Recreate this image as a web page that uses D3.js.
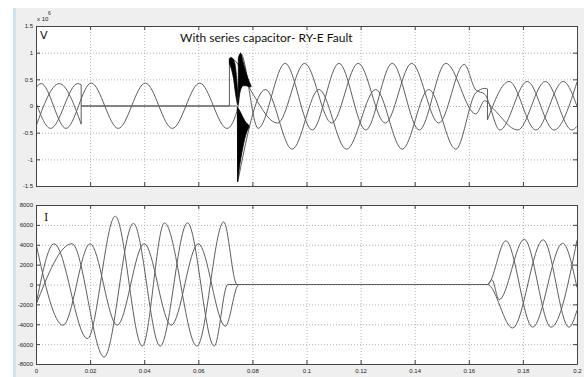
<!DOCTYPE html>
<html>
<head>
<meta charset="utf-8">
<script src="https://cdn.jsdelivr.net/npm/d3@7"></script>
<style>
  body { margin: 0; background: #fff; }
  svg { display: block; font-family: "Liberation Sans", Arial, sans-serif; }
  .tick text { font-size: 6px; fill: #222; }
  .grid line { stroke: #b4b4b4; stroke-dasharray: 1,2; }
  .grid path, .noline path { display: none; }
  .frame path, .frame line { stroke: #444; }
  .wave { fill: none; stroke: #5e5e5e; stroke-width: 1; }
</style>
</head>
<body>
<svg id="chart" width="584" height="377"></svg>
<script>
// x axis (time, s)
const xTicks = [0, 0.02, 0.04, 0.06, 0.08, 0.1, 0.12, 0.14, 0.16, 0.18, 0.2];
const xTickLabels = ["0", "0.02", "0.04", "0.06", "0.08", "0.1", "0.12", "0.14", "0.16", "0.18", "0.2"];
// voltage panel (x10^6)
const vTicks = [-1.5, -1, -0.5, 0, 0.5, 1, 1.5];
const vTickLabels = ["-1.5", "-1", "-0.5", "0", "0.5", "1", "1.5"];
// current panel
const iTicks = [-8000, -6000, -4000, -2000, 0, 2000, 4000, 6000, 8000];
const iTickLabels = ["-8000", "-6000", "-4000", "-2000", "0", "2000", "4000", "6000", "8000"];

const title = "With series capacitor- RY-E Fault";

// voltage phases: segments of [t, v(x10^6)], segments joined by straight jumps
const vPhaseA = [
  [[0, 0.35], [0.0019, 0.42], [0.0111, -0.42], [0.0204, 0.43], [0.0304, -0.42], [0.0404, 0.43],
   [0.0504, -0.42], [0.0605, 0.43], [0.0706, -0.42], [0.0748, 0.0], [0.0756, 0.99], [0.0821, -0.42],
   [0.0921, 0.8], [0.1021, -0.45], [0.1120, 0.8], [0.1219, -0.45], [0.1317, 0.8], [0.1417, -0.45],
   [0.1515, 0.8], [0.1626, -0.15], [0.1659, 0.1], [0.1690, -0.05], [0.1781, -0.45], [0.1883, 0.46],
   [0.1981, -0.45], [0.2, -0.38]]
];
const vPhaseB = [
  [[0, -0.38], [0.0086, 0.42], [0.0167, -0.34]],
  [[0.0167, 0], [0.0744, 0]],
  [[0.0746, -1.42], [0.0848, 0.31], [0.0947, -0.81], [0.1046, 0.31], [0.1148, -0.81], [0.1256, 0.31],
   [0.1354, -0.81], [0.1452, 0.31], [0.1552, -0.81], [0.1626, 0.25], [0.1659, 0.33], [0.1669, 0.32]],
  [[0.1669, -0.26], [0.1749, 0.46], [0.1848, -0.45], [0.1949, 0.46], [0.2, 0.0]]
];
const vPhaseC = [
  [[0, 0.06], [0.0054, -0.42], [0.0154, 0.42], [0.0167, 0.40]],
  [[0.0167, 0], [0.0715, 0]],
  [[0.0715, 0.89], [0.0731, 0.87], [0.0793, 0.3], [0.0893, -0.32], [0.0993, 0.8], [0.1093, -0.32],
   [0.1191, 0.8], [0.1291, -0.32], [0.1389, 0.8], [0.1489, -0.32], [0.1583, 0.78], [0.1626, 0.3],
   [0.1659, 0.22], [0.1715, -0.45], [0.1816, 0.46], [0.1915, -0.45], [0.2, 0.45]]
];
// high-frequency transient bursts: [t, upper, lower]
const vBurst1 = [[0.0715, 0.89, 0.80], [0.0722, 0.91, 0.70], [0.0730, 0.87, 0.52], [0.0738, 0.70, 0.22], [0.0745, 0.30, 0.02]];
const vBurst2 = [[0.0748, 0.90, 0.05], [0.0756, 0.99, 0.30], [0.0766, 0.82, 0.38], [0.0777, 0.62, 0.38], [0.0788, 0.46, 0.36], [0.0795, 0.38, 0.36]];
const vBurst3 = [[0.0745, -0.03, -1.42], [0.0752, -0.08, -1.15], [0.0762, -0.18, -0.85], [0.0775, -0.3, -0.55], [0.0787, -0.36, -0.40]];

// current phases: [t, A]
const iPhaseA = [
  [[0, 4100], [0.01, -4100], [0.02, 4100], [0.03, -4100], [0.04, 4100], [0.05, -4100], [0.06, 4100],
   [0.07, -4200], [0.075, 0], [0.1669, 0], [0.1737, 4400], [0.1836, -4300], [0.1947, 4150], [0.2, -300]]
];
const iPhaseB = [
  [[0, -2050], [0.0067, 4100], [0.019, -5450], [0.0293, 6870], [0.0393, -6200], [0.0475, 6200],
   [0.0595, -6200], [0.0694, 6300], [0.0743, 0], [0.1669, 0], [0.1685, 500], [0.1712, -1530],
   [0.1805, 4550], [0.1904, -4300], [0.2, 4450]]
];
const iPhaseC = [
  [[0, -2050], [0.0133, 4100], [0.0252, -7300], [0.036, 6150], [0.0459, -6200], [0.056, 6200],
   [0.0659, -6200], [0.0709, 0], [0.1669, 0], [0.1762, -4380], [0.1875, 4500], [0.197, -4300], [0.2, -2600]]
];

const W = 584, H = 377;
const svg = d3.select("#chart");

// figure window background
svg.append("rect").attr("x", 13).attr("y", 8).attr("width", W - 13).attr("height", H - 8).attr("fill", "#efefef");
svg.append("rect").attr("x", 13).attr("y", 8).attr("width", 3).attr("height", H - 8).attr("fill", "#d3e2f1");

const x = d3.scaleLinear().domain([0, 0.2]).range([36, 577]);
const yV = d3.scaleLinear().domain([-1.5, 1.5]).range([186, 26]);
const yI = d3.scaleLinear().domain([-8000, 8000]).range([364, 205]);

function panel(id, y, yTicks, yLabels, xLabels, phases, bursts) {
  const [bottom, top] = y.range();
  const left = x.range()[0], right = x.range()[1];
  const g = svg.append("g").attr("id", id);

  g.append("rect").attr("x", left).attr("y", top).attr("width", right - left).attr("height", bottom - top).attr("fill", "#fff");

  // grid
  g.append("g").attr("class", "grid").attr("transform", `translate(0,${bottom})`)
    .call(d3.axisBottom(x).tickValues(xTicks).tickSize(-(bottom - top)).tickFormat(""));
  g.append("g").attr("class", "grid").attr("transform", `translate(${left},0)`)
    .call(d3.axisLeft(y).tickValues(yTicks).tickSize(-(right - left)).tickFormat(""));

  const clipId = id + "-clip";
  g.append("clipPath").attr("id", clipId).append("rect")
    .attr("x", left).attr("y", top).attr("width", right - left).attr("height", bottom - top);
  const plot = g.append("g").attr("clip-path", `url(#${clipId})`);

  const line = d3.line().x(d => x(d[0])).y(d => y(d[1])).curve(d3.curveMonotoneX);
  const jump = d3.line().x(d => x(d[0])).y(d => y(d[1]));
  phases.forEach(segs => {
    segs.forEach((s, k) => {
      plot.append("path").attr("class", "wave").attr("d", line(s));
      if (k > 0) plot.append("path").attr("class", "wave").attr("d", jump([segs[k - 1][segs[k - 1].length - 1], s[0]]));
    });
  });

  const area = d3.area().x(d => x(d[0])).y0(d => y(d[2])).y1(d => y(d[1])).curve(d3.curveMonotoneX);
  bursts.forEach(b => plot.append("path").attr("d", area(b)).attr("fill", "#000").attr("stroke", "#000").attr("stroke-width", 0.8));

  // axes box with inward ticks (MATLAB style)
  g.append("g").attr("class", "frame").attr("transform", `translate(0,${bottom})`)
    .call(d3.axisBottom(x).tickValues(xTicks).tickSizeInner(-4).tickSizeOuter(0).tickPadding(5)
      .tickFormat((d, i) => xLabels ? xLabels[i] : ""));
  g.append("g").attr("class", "frame").attr("transform", `translate(0,${top})`)
    .call(d3.axisTop(x).tickValues(xTicks).tickSizeInner(-4).tickSizeOuter(0).tickFormat(""));
  g.append("g").attr("class", "frame").attr("transform", `translate(${left},0)`)
    .call(d3.axisLeft(y).tickValues(yTicks).tickSizeInner(-4).tickSizeOuter(0).tickPadding(3)
      .tickFormat((d, i) => yLabels[i]));
  g.append("g").attr("class", "frame").attr("transform", `translate(${right},0)`)
    .call(d3.axisRight(y).tickValues(yTicks).tickSizeInner(-4).tickSizeOuter(0).tickFormat(""));
  return g;
}

const gV = panel("volt", yV, vTicks, vTickLabels, null, [vPhaseA, vPhaseB, vPhaseC], [vBurst1, vBurst2, vBurst3]);
const gI = panel("curr", yI, iTicks, iTickLabels, xTickLabels, [iPhaseA, iPhaseB, iPhaseC], []);

// exponent marker
gV.append("text").attr("x", 37).attr("y", 21).attr("font-size", 6).attr("fill", "#222").text("x 10");
gV.append("text").attr("x", 48).attr("y", 15).attr("font-size", 5).attr("fill", "#222").text("6");

// panel labels and title
gV.append("text").attr("x", 40).attr("y", 39).attr("font-size", 11).attr("font-family", "DejaVu Sans")
  .attr("fill", "#111").text("V");
gI.append("text").attr("x", 44).attr("y", 221).attr("font-size", 11).attr("font-family", "DejaVu Serif")
  .attr("fill", "#111").text("I");
gV.append("text").attr("x", 180).attr("y", 42).attr("font-size", 12).attr("font-family", "Lato")
  .attr("fill", "#111").text(title);
</script>
</body>
</html>
